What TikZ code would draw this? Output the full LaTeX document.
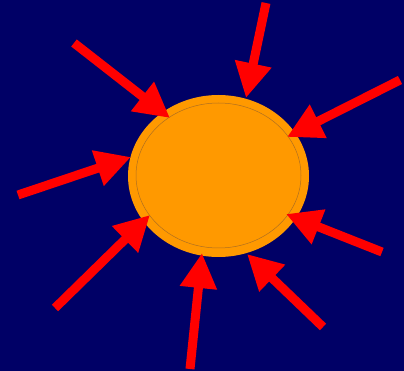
\documentclass[tikz,border=0pt]{standalone}
\usetikzlibrary{arrows.meta,shapes.geometric}
\definecolor{navy}{HTML}{000066}
\definecolor{sunorange}{HTML}{FF9900}
\definecolor{ringcol}{HTML}{B07020}
\tikzset{
  ray/.style={draw=red, line width=9pt, -{Triangle[length=35pt,width=35pt]}},
  sunbody/.style={ellipse, fill=sunorange, minimum width=181pt, minimum height=162pt, inner sep=0pt},
  ring/.style={ellipse, draw=ringcol, line width=0.5pt, minimum width=165pt, minimum height=145pt, inner sep=0pt}
}
\begin{document}
\begin{tikzpicture}[x=1pt,y=-1pt]
\fill[navy] (0,0) rectangle (404,371);
\useasboundingbox (0,0) rectangle (404,371);
\node[sunbody] (sun) at (218.5,176) {};
\node[ring] (ring) at (218.5,175.5) {};
% tails
\coordinate (t1) at (266,3);
\coordinate (t2) at (74,43);
\coordinate (t3) at (400,80);
\coordinate (t4) at (18,195);
\coordinate (t5) at (382,252);
\coordinate (t6) at (55,308);
\coordinate (t7) at (323,327);
\coordinate (t8) at (190,369);
% tips
\coordinate (h1) at (246,98);
\coordinate (h2) at (170,118);
\coordinate (h3) at (287,137);
\coordinate (h4) at (131,157);
\coordinate (h5) at (286,214);
\coordinate (h6) at (150,215);
\coordinate (h7) at (247,254);
\coordinate (h8) at (202,253);
\foreach \i in {1,...,8} \draw[ray] (t\i) -- (h\i);
\end{tikzpicture}
\end{document}
